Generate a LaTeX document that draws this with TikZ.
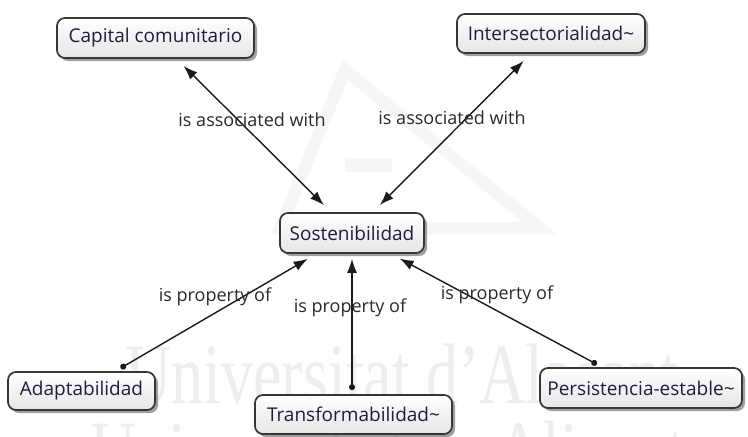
\documentclass[tikz,border=0pt]{standalone}
\usepackage{fontspec}
\setmainfont{Open Sans}
\newfontfamily\wmfont{Liberation Serif}
\usetikzlibrary{arrows.meta,shadows}
\definecolor{conceptborder}{HTML}{363636}
\definecolor{concepttext}{HTML}{1E1E3C}
\definecolor{linkline}{HTML}{1A1A1A}
\definecolor{linktext}{HTML}{2A2A2A}
\definecolor{wmtext}{HTML}{EEEEEE}
\definecolor{wmlogo}{HTML}{F6F6F6}
\begin{document}
\begin{tikzpicture}[x=1pt,y=-1pt,
  concept/.style={draw=conceptborder, line width=1.7pt, rounded corners=8pt,
    top color=white, bottom color=black!10, text=concepttext,
    font=\fontsize{19}{22}\selectfont, inner sep=0pt,
    drop shadow={shadow xshift=3pt, shadow yshift=-3pt, opacity=0.5, fill=black!75}},
  linklabel/.style={text=linktext, font=\fontsize{18}{21}\selectfont, inner sep=1pt},
  assoc/.style={draw=linkline, line width=1.4pt, {Latex[length=14pt,width=10pt]}-{Latex[length=14pt,width=10pt]},
    shorten <=10pt, shorten >=10pt},
  prop/.style={draw=linkline, line width=1.4pt, {Circle[length=6pt]}-{Latex[length=14pt,width=10pt]},
    shorten <=6pt, shorten >=10pt},
  watermark/.style={text=wmtext, font=\wmfont\fontsize{86}{90}\selectfont, inner sep=0pt, anchor=base},
]
\fill[white] (0,0) rectangle (748,437);
\useasboundingbox (0,0) rectangle (748,437);

% faint university watermark
\begin{scope}
  \clip (0,0) rectangle (748,437);
  \draw[wmlogo, line width=12pt, line join=miter] (345,70) -- (540,228) -- (280,228) -- cycle;
  \fill[wmlogo] (345,158) rectangle (392,172);
  \node[watermark] (wm1) at (402,403) {\scalebox{0.745}[1]{Universitat d’Alacant}};
  \node[watermark] (wm2) at (402,480) {\scalebox{0.745}[1]{Universidad de Alicante}};
\end{scope}

% concepts
\node[concept, minimum width=197pt, minimum height=40pt] (cap) at (155.5,38) {Capital comunitario};
\node[concept, minimum width=188pt, minimum height=39pt] (inter) at (551,33.5) {Intersectorialidad\textasciitilde};
\node[concept, minimum width=144pt, minimum height=40pt] (sost) at (352,233) {Sostenibilidad};
\node[concept, minimum width=147pt, minimum height=38pt] (adap) at (81.5,391) {Adaptabilidad};
\node[concept, minimum width=197pt, minimum height=39pt] (trans) at (353.5,414.5) {Transformabilidad\textasciitilde};
\node[concept, minimum width=202pt, minimum height=40pt] (pers) at (641,388) {Persistencia-estable\textasciitilde};

% links
\draw[assoc] (cap) -- (sost);
\draw[assoc] (inter) -- (sost);
\draw[prop] (adap) -- (sost);
\draw[prop, shorten <=4pt, shorten >=5pt] (trans.north -| sost.south) -- (sost.south);
\draw[prop] (pers) -- (sost);

% link labels
\node[linklabel] (l1) at (252,120) {is associated with};
\node[linklabel] (l2) at (452,118) {is associated with};
\node[linklabel] (l3) at (215,297) {is property of};
\node[linklabel] (l4) at (350,308) {is property of};
\node[linklabel] (l5) at (497,295) {is property of};
\end{tikzpicture}
\end{document}
